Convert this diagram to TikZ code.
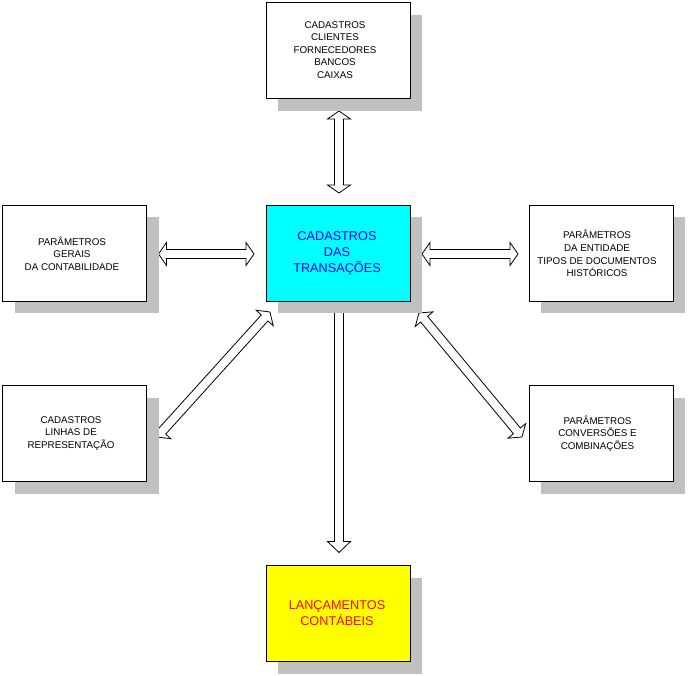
\documentclass[tikz,border=0pt]{standalone}
\usepackage{fontspec}
\setmainfont{Liberation Sans}
\usetikzlibrary{calc,shadows}
\definecolor{shadowgray}{RGB}{192,192,192}
\definecolor{boxcyan}{RGB}{0,255,255}
\definecolor{boxyellow}{RGB}{255,255,0}
\definecolor{txtblue}{RGB}{0,0,255}
\definecolor{txtred}{RGB}{255,0,0}
\tikzset{
  box/.style={draw, line width=1pt, fill=white, minimum width=144pt, minimum height=96pt,
    inner sep=0pt,
    drop shadow={shadow xshift=12pt, shadow yshift=-12pt, fill=shadowgray, opacity=1}},
  boxtext/.style={inner sep=0pt, align=center, font=\fontsize{9.8}{12.6}\selectfont},
  bigtext/.style={inner sep=0pt, align=center, font=\fontsize{12.7}{16}\selectfont},
  arrowline/.style={draw, fill=white, line width=0.8pt, line join=miter}
}
\newcommand\blockarrowtwo[2]{%
  \coordinate (ba-p) at ($(#1)!8pt!(#2)$);
  \coordinate (ba-q) at ($(#2)!8pt!(#1)$);
  \draw[arrowline] (#1) -- ($(ba-p)!11.5pt!90:(#2)$) -- ($(ba-p)!4.5pt!90:(#2)$)
    -- ($(ba-q)!4.5pt!-90:(#1)$) -- ($(ba-q)!11.5pt!-90:(#1)$) -- (#2)
    -- ($(ba-q)!11.5pt!90:(#1)$) -- ($(ba-q)!4.5pt!90:(#1)$)
    -- ($(ba-p)!4.5pt!-90:(#2)$) -- ($(ba-p)!11.5pt!-90:(#2)$) -- cycle;}
\newcommand\blockarrowone[2]{%
  \coordinate (ba-q) at ($(#2)!11pt!(#1)$);
  \draw[arrowline] ($(#1)!4.5pt!90:(#2)$)
    -- ($(ba-q)!4.5pt!-90:(#1)$) -- ($(ba-q)!11.5pt!-90:(#1)$) -- (#2)
    -- ($(ba-q)!11.5pt!90:(#1)$) -- ($(ba-q)!4.5pt!90:(#1)$)
    -- ($(#1)!4.5pt!-90:(#2)$) -- cycle;}
\begin{document}
\begin{tikzpicture}[x=1pt,y=-1pt]
\fill[white] (0,0) rectangle (688,676);
\useasboundingbox (0,0) rectangle (688,676);
% box centres
\path (338,51) coordinate (topc) (338,253.5) coordinate (cenc) (74.5,253.5) coordinate (lmc)
  (601,253.5) coordinate (rmc) (74.5,433.5) coordinate (lbc) (601,433.5) coordinate (rbc)
  (338,613.5) coordinate (botc);
% arrow end points
\coordinate (a1s) at ($(topc)+(1,60)$);
\coordinate (a1e) at ($(cenc)+(1,-60.5)$);
\coordinate (a2s) at ($(lmc)+(84,0.5)$);
\coordinate (a2e) at ($(cenc)+(-84,0.5)$);
\coordinate (a3s) at ($(cenc)+(84,0.5)$);
\coordinate (a3e) at ($(rmc)+(-83,0.5)$);
\coordinate (a4s) at ($(cenc)+(1,54)$);
\coordinate (a4e) at ($(botc)+(1,-61)$);
\coordinate (a5s) at ($(lbc)+(82.5,3.5)$);
\coordinate (a5e) at ($(cenc)+(-68,58.5)$);
\coordinate (a6s) at ($(cenc)+(81,59.5)$);
\coordinate (a6e) at ($(rbc)+(-79,3.5)$);
\blockarrowtwo{a1s}{a1e}
\blockarrowtwo{a2s}{a2e}
\blockarrowtwo{a3s}{a3e}
\blockarrowone{a4s}{a4e}
\blockarrowtwo{a5s}{a5e}
\blockarrowtwo{a6s}{a6e}
% boxes
\node[box] (top) at (topc) {};
\node[box, fill=boxcyan] (cen) at (cenc) {};
\node[box] (lm) at (lmc) {};
\node[box] (rm) at (rmc) {};
\node[box] (lb) at (lbc) {};
\node[box] (rb) at (rbc) {};
\node[box, fill=boxyellow] (bot) at (botc) {};
% texts
\node[boxtext] (top-t) at ($(top)+(-3,-1)$) {CADASTROS\\CLIENTES\\FORNECEDORES\\BANCOS\\CAIXAS};
\node[bigtext, text=txtblue] (cen-t) at ($(cen)+(-1,0)$) {CADASTROS\\DAS\\TRANSAÇÕES};
\node[boxtext] (lm-t) at ($(lm)+(-2.5,0)$) {PARÂMETROS\\GERAIS\\DA CONTABILIDADE};
\node[boxtext] (rm-t) at ($(rm)+(-4,0)$) {PARÂMETROS\\DA ENTIDADE\\TIPOS DE DOCUMENTOS\\HISTÓRICOS};
\node[boxtext] (lb-t) at ($(lb)+(-3.5,0)$) {CADASTROS\\LINHAS DE\\REPRESENTAÇÃO};
\node[boxtext] (rb-t) at ($(rb)+(-3.5,0)$) {PARÂMETROS\\CONVERSÕES E\\COMBINAÇÕES};
\node[bigtext, text=txtred] (bot-t) at ($(bot)+(-1,0)$) {LANÇAMENTOS\\CONTÁBEIS};
\end{tikzpicture}
\end{document}
